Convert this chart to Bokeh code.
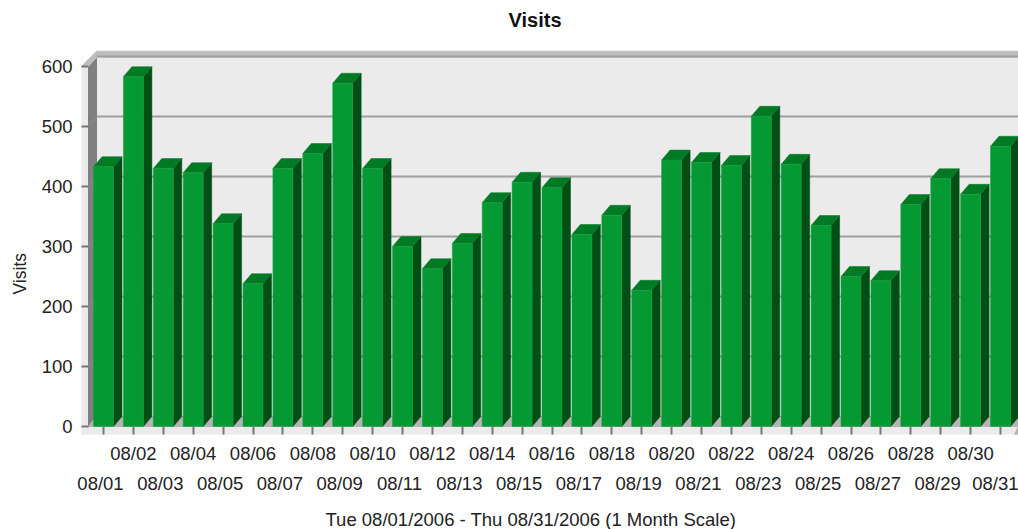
from bokeh.plotting import figure
from bokeh.models import Range1d, LinearAxis, FixedTicker, Title
from bokeh.embed import file_html
from bokeh.resources import INLINE

days = list(range(1, 32))
day_labels = ["08/%02d" % d for d in days]
visits = [433, 583, 430, 423, 338, 238, 430, 455, 572, 430, 300, 263, 305, 373, 407,
          398, 320, 352, 227, 444, 440, 435, 517, 437, 335, 250, 243, 370, 413, 387, 467]
y_ticks = [0, 100, 200, 300, 400, 500, 600]
grid_levels = [100, 200, 300, 400, 500, 600]

FONT = "Liberation Sans"
TXT = "#222222"
# pixel scale of the chart
PX_DAY = 29.9
PX_VIS = 0.6
FW, FH = 1018, 529
L, R, T, B = 81, 0, 48, 95
xmin = 1 - 22 / PX_DAY
xmax = xmin + (FW - L - R) / PX_DAY
ymin = -8 / PX_VIS
ymax = ymin + (FH - T - B) / PX_VIS
dx = 8.5 / PX_DAY      # depth of the 3D effect
dy = 10 / PX_VIS
hw = 10 / PX_DAY
wall_x = xmin + 15 / PX_DAY
strip_x = xmin + 7 / PX_DAY

p = figure(width=FW, height=FH, output_backend="svg", toolbar_location=None,
           x_range=Range1d(xmin, xmax), y_range=Range1d(ymin, ymax),
           x_axis_type=None, y_axis_type=None,
           min_border_left=L, min_border_right=R, min_border_top=T, min_border_bottom=B)
p.outline_line_color = None
p.grid.visible = False
p.background_fill_color = "white"
p.border_fill_color = "white"

top = 600 + dy
# plot background, back wall, floor, side wall, top band
p.patch([xmin, wall_x, xmax, xmax, xmin], [600, top + 10, top + 10, ymin, ymin], color="#ebebeb")
p.patch([strip_x, wall_x, wall_x, strip_x], [600, top - 3, dy, 0], color="#808080")
p.patch([strip_x, wall_x, xmax, xmax], [0, dy, dy, 0], color="#b4b4b4")
p.patch([xmin, wall_x, xmax, xmax, wall_x, strip_x], [600, top + 8, top + 8, top - 1, top - 1, 600], color="#bcbcbc")
p.patch([xmax - 4 / PX_DAY, xmax, xmax], [ymin, ymin, 0], color="#b4b4b4")

p.segment([wall_x] * len(grid_levels), [v + dy for v in grid_levels],
          [xmax] * len(grid_levels), [v + dy for v in grid_levels], line_color="#a0a0a0", line_width=2)
p.segment([strip_x] * 5, [v for v in grid_levels[:5]],
          [wall_x] * 5, [v + dy for v in grid_levels[:5]], line_color="#8c8c8c", line_width=1)

front_l = [d - hw for d in days]
front_r = [d + hw for d in days]
p.patches([[r, r + dx, r + dx, r] for r in front_r],
          [[0, dy, v + dy, v] for v in visits], color="#014f14", line_width=0.5)
p.patches([[l, l + dx, r + dx, r] for l, r in zip(front_l, front_r)],
          [[v, v + dy, v + dy, v] for v in visits], color="#017a25", line_width=0.5)
p.quad(left=front_l, right=front_r, bottom=0, top=visits, fill_color="#059933", line_color="#18a043", line_width=0.5)


def style(ax):
    ax.axis_line_color = None
    ax.major_label_text_font = FONT
    ax.major_label_text_font_size = "18.5px"
    ax.major_label_text_color = TXT
    ax.minor_tick_line_color = None


def spacer(size):
    # a blank title that only reserves room between the frame and the real title
    return Title(text=" ", text_font_size="1px", standoff=size)


ya = LinearAxis(ticker=FixedTicker(ticks=y_ticks))
style(ya)
ya.major_tick_in = 7
ya.major_tick_out = 0
ya.major_tick_line_color = "#777777"
ya.major_tick_line_width = 2
ya.major_label_standoff = 9
p.add_layout(ya, "left")

xa = LinearAxis(ticker=FixedTicker(ticks=days),
                major_label_overrides={d: (s if d % 2 == 0 else "") for d, s in zip(days, day_labels)})
style(xa)
xa.major_tick_in = 8
xa.major_tick_out = 0
xa.major_tick_line_color = "#777777"
xa.major_tick_line_width = 2
xa.major_label_standoff = 8
p.add_layout(xa, "below")

# the odd-day labels sit a few pixels left of their ticks in the reference
odd_shift = 3 / PX_DAY
odd_days = [d for d in days if d % 2 == 1]
xb = LinearAxis(ticker=FixedTicker(ticks=[d - odd_shift for d in odd_days]),
                major_label_overrides={d - odd_shift: day_labels[d - 1] for d in odd_days})
style(xb)
xb.major_tick_line_color = None
xb.major_tick_in = 0
xb.major_tick_out = 0
xb.major_label_standoff = 6
p.add_layout(xb, "below")

p.add_layout(spacer(7), "below")
p.add_layout(spacer(15), "above")
p.add_layout(spacer(6), "left")

p.add_layout(Title(text="Visits", text_font=FONT, text_font_size="20px", text_font_style="bold",
                   text_color="#111111", align="left", offset=427, standoff=0), "above")
p.add_layout(Title(text="Visits", text_font=FONT, text_font_size="17.5px", text_font_style="normal",
                   text_color=TXT, align="left", offset=140, standoff=0), "left")
p.add_layout(Title(text="Tue 08/01/2006 - Thu 08/31/2006 (1 Month Scale)", text_font=FONT,
                   text_font_size="18.5px", text_font_style="normal", text_color=TXT,
                   align="left", offset=244, standoff=0), "below")

open("out.html", "w").write(file_html(p, INLINE))
